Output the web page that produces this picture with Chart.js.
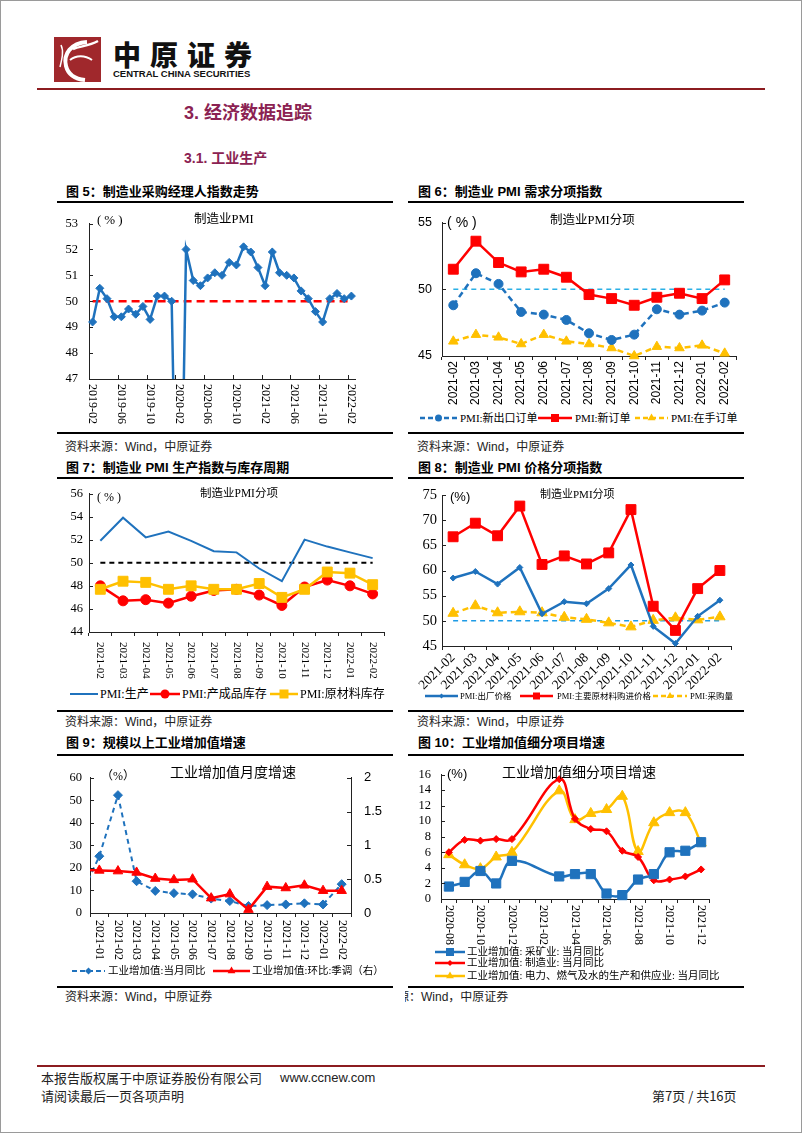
<!DOCTYPE html>
<html><head><meta charset="utf-8">
<script src="https://cdn.jsdelivr.net/npm/chart.js@4.4.1/dist/chart.umd.min.js"></script>
<style>
html,body{margin:0;padding:0;background:#fff;}
#page{position:relative;width:802px;height:1133px;overflow:hidden;background:#fff;font-family:'Noto Sans CJK SC',sans-serif;}
#frame{position:absolute;left:0;top:0;width:802px;height:1133px;box-sizing:border-box;border:1px solid #9a9a9a;}
.t{position:absolute;white-space:nowrap;line-height:1;}
.rule{position:absolute;height:2px;background:#000;}
.ftitle{font-family:'Liberation Sans','Noto Sans CJK SC',sans-serif;font-weight:700;font-size:13px;color:#000;}
.src{font-family:'Liberation Sans','Noto Sans CJK SC',sans-serif;font-size:12px;color:#222;}
.cap{font-family:'Liberation Serif','Noto Sans CJK SC',serif;color:#000;}
.capsans{font-family:'Liberation Sans','Noto Sans CJK SC',sans-serif;color:#000;}
canvas{position:absolute;}
.leg{position:absolute;display:flex;align-items:center;height:14px;white-space:nowrap;font-family:'Liberation Serif','Noto Sans CJK SC',serif;color:#000;line-height:1;}
.head{font-family:'Liberation Sans','Noto Sans CJK SC',sans-serif;font-weight:700;color:#8b2252;}
.foot{font-family:'Noto Sans CJK SC',sans-serif;font-size:13px;color:#222;}
</style>
</head>
<body>
<div id="page">
  <!-- header -->
  <svg style="position:absolute;left:54px;top:37px" width="47" height="45">
    <rect width="47" height="45" fill="#a0282c"/>
    <path d="M33 5 C 17 6, 9 17, 12 29 C 14 37, 21 42, 31 43" fill="none" stroke="#fff" stroke-width="4"/>
    <path d="M19 12 C 27 9, 35 9, 44 4" fill="none" stroke="#fff" stroke-width="2.5"/>
    <path d="M16 23 C 22 18, 31 18, 38 23" fill="none" stroke="#fff" stroke-width="2"/>
    <path d="M7 8 C 10 14, 8 22, 6 30" fill="none" stroke="#fff" stroke-width="1.5"/>
  </svg>
  <div class="t" style="left:113px;top:40px;font-size:28px;font-weight:900;letter-spacing:9px;color:#111;font-family:'Noto Sans CJK SC'">中原证券</div>
  <div class="t" style="left:113px;top:69px;font-size:9.5px;font-weight:700;color:#111;font-family:'Liberation Sans'">CENTRAL CHINA SECURITIES</div>
  <div class="rule" style="left:37px;top:88px;width:728px;background:#8c1c20"></div>
  <div class="t head" style="left:184px;top:104px;font-size:18px">3. 经济数据追踪</div>
  <div class="t head" style="left:184px;top:151px;font-size:14px">3.1. 工业生产</div>

  <!-- panel titles & rules -->
  <div class="t ftitle" style="left:66px;top:185px">图 5：制造业采购经理人指数走势</div>
  <div class="t ftitle" style="left:418px;top:185px">图 6：制造业 PMI 需求分项指数</div>
  <div class="rule" style="left:57px;top:201px;width:336px"></div>
  <div class="rule" style="left:408px;top:201px;width:336px"></div>
  <div class="rule" style="left:57px;top:432px;width:336px"></div>
  <div class="rule" style="left:408px;top:432px;width:336px"></div>
  <div class="t src" style="left:65px;top:441px">资料来源：Wind，中原证券</div>
  <div class="t src" style="left:417px;top:441px">资料来源：Wind，中原证券</div>

  <div class="t ftitle" style="left:66px;top:461px">图 7：制造业 PMI 生产指数与库存周期</div>
  <div class="t ftitle" style="left:418px;top:461px">图 8：制造业 PMI 价格分项指数</div>
  <div class="rule" style="left:57px;top:477px;width:336px"></div>
  <div class="rule" style="left:408px;top:477px;width:336px"></div>
  <div class="rule" style="left:57px;top:710px;width:336px"></div>
  <div class="rule" style="left:408px;top:710px;width:336px"></div>
  <div class="t src" style="left:65px;top:716px">资料来源：Wind，中原证券</div>
  <div class="t src" style="left:417px;top:716px">资料来源：Wind，中原证券</div>

  <div class="t ftitle" style="left:66px;top:736px">图 9：规模以上工业增加值增速</div>
  <div class="t ftitle" style="left:418px;top:736px">图 10：工业增加值细分项目增速</div>
  <div class="rule" style="left:57px;top:754px;width:336px"></div>
  <div class="rule" style="left:408px;top:754px;width:336px"></div>
  <div class="rule" style="left:57px;top:986px;width:336px"></div>
  <div class="rule" style="left:408px;top:986px;width:336px"></div>
  <div class="t src" style="left:65px;top:991px">资料来源：Wind，中原证券</div>
  <div style="position:absolute;left:405px;top:991px;width:340px;height:14px;overflow:hidden">
    <div class="t src" style="left:-44px;top:0">资料来源：Wind，中原证券</div>
  </div>

  <!-- canvases -->
  <canvas id="c5" width="336" height="225" style="left:57px;top:205px"></canvas>
  <canvas id="c6" width="336" height="205" style="left:408px;top:205px"></canvas>
  <canvas id="c7" width="336" height="205" style="left:57px;top:480px"></canvas>
  <canvas id="c8" width="336" height="210" style="left:408px;top:480px"></canvas>
  <canvas id="c9" width="336" height="208" style="left:57px;top:757px"></canvas>
  <canvas id="c10" width="336" height="190" style="left:408px;top:757px"></canvas>

  <!-- in-chart captions -->
  <div class="t cap" style="left:97px;top:213px;font-size:13px;letter-spacing:3px">(%)</div>
  <div class="t cap" style="left:194px;top:213px;font-size:12.5px">制造业PMI</div>
  <div class="t capsans" style="left:447px;top:215px;font-size:14px;letter-spacing:4px">(%)</div>
  <div class="t cap" style="left:550px;top:214px;font-size:12.5px">制造业PMI分项</div>
  <div class="t cap" style="left:97px;top:491px;font-size:12px;letter-spacing:3px">(%)</div>
  <div class="t cap" style="left:200px;top:488px;font-size:11.5px">制造业PMI分项</div>
  <div class="t capsans" style="left:450px;top:490px;font-size:13px">(%)</div>
  <div class="t cap" style="left:540px;top:489px;font-size:11px">制造业PMI分项</div>
  <div class="t cap" style="left:101px;top:770px;font-size:12px">（%）</div>
  <div class="t cap" style="left:170px;top:766px;font-size:14px">工业增加值月度增速</div>
  <div class="t capsans" style="left:447px;top:767px;font-size:13px">(%)</div>
  <div class="t cap" style="left:502px;top:766px;font-size:14px">工业增加值细分项目增速</div>

  <!-- footer -->
  <div class="rule" style="left:37px;top:1065px;width:728px;background:#8c1c20"></div>
  <div class="t foot" style="left:41px;top:1071px">本报告版权属于中原证券股份有限公司</div>
  <div class="t" style="left:280px;top:1071px;font-size:13px;font-family:'Liberation Sans';color:#222">www.ccnew.com</div>
  <div class="t foot" style="left:41px;top:1089px">请阅读最后一页各项声明</div>
  <div class="t foot" style="left:652px;top:1089px">第7页 / 共16页</div>
  <div id="frame"></div>
</div>

<script>
// ---------------- DATA ----------------
// Fig 5: manufacturing PMI
const pmiMonths = ['2019-02','2019-03','2019-04','2019-05','2019-06','2019-07','2019-08','2019-09','2019-10','2019-11','2019-12',
  '2020-01','2020-02','2020-03','2020-04','2020-05','2020-06','2020-07','2020-08','2020-09','2020-10','2020-11','2020-12',
  '2021-01','2021-02','2021-03','2021-04','2021-05','2021-06','2021-07','2021-08','2021-09','2021-10','2021-11','2021-12',
  '2022-01','2022-02'];
const pmiValues = [49.2,50.5,50.1,49.4,49.4,49.7,49.5,49.8,49.3,50.2,50.2,
  50.0,35.7,52.0,50.8,50.6,50.9,51.1,51.0,51.5,51.4,52.1,51.9,
  51.3,50.6,51.9,51.1,51.0,50.9,50.4,50.1,49.6,49.2,50.1,50.3,
  50.1,50.2];
const pmiThreshold = 50;

// Fig 6/7/8: PMI sub-indices
const subMonths = ['2021-02','2021-03','2021-04','2021-05','2021-06','2021-07','2021-08','2021-09','2021-10','2021-11','2021-12','2022-01','2022-02'];
const exportOrders  = [48.8,51.2,50.4,48.3,48.1,47.7,46.7,46.2,46.6,48.5,48.1,48.4,49.0];
const newOrders     = [51.5,53.6,52.0,51.3,51.5,50.9,49.6,49.3,48.8,49.4,49.7,49.3,50.7];
const backlogOrders = [46.1,46.6,46.4,45.9,46.6,46.1,45.9,45.6,45.0,45.7,45.6,45.8,45.2];

const production    = [51.9,53.9,52.2,52.7,51.9,51.0,50.9,49.5,48.4,52.0,51.4,50.9,50.4];
const finishedInv   = [48.0,46.7,46.8,46.5,47.1,47.6,47.7,47.2,46.3,47.9,48.5,48.0,47.3];
const rawInv        = [47.7,48.4,48.3,47.7,48.0,47.7,47.7,48.2,47.0,47.7,49.2,49.1,48.1];

const outputPrice   = [58.5,59.8,57.3,60.6,51.4,53.8,53.4,56.4,61.1,48.9,45.5,50.9,54.1];
const inputPrice    = [66.7,69.4,66.9,72.8,61.2,62.9,61.3,63.5,72.1,52.9,48.1,56.4,60.0];
const purchaseQty   = [51.5,53.0,51.6,51.8,51.6,50.7,50.3,49.6,48.8,50.1,50.6,50.2,50.8];

// Fig 9: industrial value added (first month sits just left of the visible axis)
const iavMonths = ['2020-12','2021-01','2021-02','2021-03','2021-04','2021-05','2021-06','2021-07','2021-08','2021-09','2021-10','2021-11','2021-12','2022-01','2022-02'];
const iavYoY = [7.3,25.2,52.3,14.1,9.8,8.8,8.3,6.4,5.3,3.1,3.5,3.8,4.3,3.8,12.8];
const iavMoM = [0.64,0.63,0.62,0.60,0.51,0.49,0.50,0.22,0.28,0.05,0.39,0.37,0.41,0.33,0.33];

// Fig 10: value added by sector
const secMonths = ['2020-08','2020-09','2020-10','2020-11','2020-12','2021-01','2021-02','2021-03','2021-04','2021-05','2021-06','2021-07','2021-08','2021-09','2021-10','2021-11','2021-12'];
const mining        = [1.6,2.2,3.6,2.0,4.9,null,null,2.9,3.2,3.2,0.7,0.5,2.5,3.2,6.0,6.2,7.3];
const manufacturing = [6.0,7.6,7.5,7.7,7.7,null,null,15.4,10.3,9.0,8.7,6.2,5.4,2.4,2.5,2.9,3.8];
const utilities     = [5.7,4.4,3.9,5.4,6.0,null,null,13.9,10.2,11.0,11.5,13.2,6.1,9.8,11.1,11.1,7.2];

// ---------------- STYLE ----------------
const serif = "'Liberation Serif','Times New Roman',serif";
const sans = "'Liberation Sans',Arial,sans-serif";
const BLUE = '#1f72bd', RED = '#ff0000', YEL = '#ffc000', AX = '#222';
Chart.defaults.font.family = serif;
Chart.defaults.color = '#000';

const deco = {
  id: 'deco',
  afterDraw(chart, args, o) {
    const ctx = chart.ctx;
    ctx.save();
    ctx.strokeStyle = AX; ctx.lineWidth = 1;
    (o.inY || []).forEach(id => {
      const s = chart.scales[id];
      const isLeft = s.position === 'left';
      const edge = isLeft ? s.right : s.left;
      s.ticks.forEach((t, i) => {
        const py = Math.round(s.getPixelForTick(i)) + 0.5;
        ctx.beginPath(); ctx.moveTo(edge, py); ctx.lineTo(edge + (isLeft ? 4 : -4), py); ctx.stroke();
      });
    });
    const v = o.vlabels;
    if (v) {
      const x = chart.scales.x;
      const labels = chart.data.labels;
      const step = x.getPixelForValue(1) - x.getPixelForValue(0);
      ctx.font = v.font; ctx.fillStyle = '#000';
      ctx.textAlign = 'left'; ctx.textBaseline = 'middle';
      for (let i = v.start || 0; i < labels.length; i += v.every) {
        const px = x.getPixelForValue(i);
        ctx.save(); ctx.translate(px, x.top + v.pad); ctx.rotate(Math.PI / 2); ctx.fillText(labels[i], 0, 0); ctx.restore();
        if (v.inTicks) {
          const bx = Math.round(px - step / 2) + 0.5;
          ctx.beginPath(); ctx.moveTo(bx, x.top); ctx.lineTo(bx, x.top - 4); ctx.stroke();
        }
      }
    }
    ctx.restore();
  }
};

function yAxis(c) {
  return {
    type: 'linear', position: c.position || 'left', min: c.min, max: c.max,
    ticks: { stepSize: c.step, autoSkip: false, padding: c.pad, font: c.font, color: '#000', callback: v => String(+Number(v).toFixed(2)) },
    grid: { display: false, drawTicks: false },
    border: { display: true, color: AX, width: 1 },
    afterFit: s => { s.width = c.w; }
  };
}
function xAxis(c) {
  return Object.assign({
    type: 'category', offset: true,
    ticks: c.ticks || { display: false },
    grid: c.noGrid ? { display: false } :
      { display: true, drawOnChartArea: false, drawTicks: true, tickLength: 4, offset: true, color: AX, tickColor: AX },
    border: { display: true, color: AX, width: 1 },
    afterFit: s => { s.height = c.h; }
  }, c.extra || {});
}
function opts(padding, scales, decoOpts) {
  return {
    responsive: false, animation: false, events: [],
    layout: { padding },
    plugins: { legend: { display: false }, tooltip: { enabled: false }, deco: decoOpts },
    scales
  };
}
function series(data, color, o = {}) {
  return Object.assign({
    data, borderColor: color, backgroundColor: color,
    pointBackgroundColor: color, pointBorderColor: color, pointBorderWidth: 1,
    borderWidth: 2.5, tension: 0, fill: false
  }, o);
}
function refLine(labels, value, color, dash, width) {
  return { data: labels.map(() => value), borderColor: color, borderDash: dash, borderWidth: width, pointRadius: 0, fill: false };
}

// ---------------- FIG 5 ----------------
new Chart(document.getElementById('c5'), {
  type: 'line', plugins: [deco],
  data: { labels: pmiMonths, datasets: [
    series(pmiValues, BLUE, { pointStyle: 'rectRot', pointRadius: 4 }),
    refLine(pmiMonths, pmiThreshold, RED, [8, 5], 2.5)
  ]},
  options: opts({ left: 0, top: 10, right: 38, bottom: 0 }, {
    x: xAxis({ h: 51, noGrid: true }),
    y: yAxis({ min: 47, max: 53, step: 1, w: 32, pad: 11, font: { family: serif, size: 12.5 } })
  }, { inY: ['y'], vlabels: { every: 4, pad: 5, font: '12px ' + serif, inTicks: true } })
});

// ---------------- FIG 6 ----------------
new Chart(document.getElementById('c6'), {
  type: 'line', plugins: [deco],
  data: { labels: subMonths, datasets: [
    series(newOrders, RED, { pointStyle: 'rect', pointRadius: 7, clip: false }),
    series(exportOrders, BLUE, { borderDash: [6, 4], pointStyle: 'circle', pointRadius: 4.5, clip: false }),
    series(backlogOrders, YEL, { borderDash: [6, 4], pointStyle: 'triangle', pointRadius: 5.5, clip: false }),
    refLine(subMonths, pmiThreshold, '#2ab0e6', [5, 4], 1.5)
  ]},
  options: opts({ left: 0, top: 12, right: 6, bottom: 0 }, {
    x: xAxis({ h: 54, ticks: { display: true, autoSkip: false, minRotation: 90, maxRotation: 90, padding: 1, font: { family: sans, size: 12 }, color: '#000' } }),
    y: yAxis({ min: 45, max: 55, step: 5, w: 34, pad: 10, font: { family: sans, size: 12.5 } })
  }, { inY: ['y'] })
});

// ---------------- FIG 7 ----------------
new Chart(document.getElementById('c7'), {
  type: 'line', plugins: [deco],
  data: { labels: subMonths, datasets: [
    series(rawInv, YEL, { pointStyle: 'rect', pointRadius: 7, clip: false }),
    series(finishedInv, RED, { pointStyle: 'circle', pointRadius: 5, clip: false }),
    series(production, BLUE, { pointRadius: 0, borderWidth: 2, clip: false }),
    refLine(subMonths, pmiThreshold, '#000', [5, 4], 2)
  ]},
  options: opts({ left: 0, top: 13, right: 9, bottom: 0 }, {
    x: xAxis({ h: 53 }),
    y: yAxis({ min: 44, max: 56, step: 2, w: 32, pad: 6, font: { family: serif, size: 12.5 } })
  }, { inY: ['y'], vlabels: { every: 1, pad: 10, font: '11px ' + serif } })
});

// ---------------- FIG 8 ----------------
new Chart(document.getElementById('c8'), {
  type: 'line', plugins: [deco],
  data: { labels: subMonths, datasets: [
    series(inputPrice, RED, { pointStyle: 'rect', pointRadius: 7, clip: false }),
    series(outputPrice, BLUE, { pointStyle: 'rectRot', pointRadius: 3, clip: false }),
    series(purchaseQty, YEL, { borderDash: [6, 4], pointStyle: 'triangle', pointRadius: 6, clip: false }),
    refLine(subMonths, pmiThreshold, '#1e9be6', [5, 4], 1.5)
  ]},
  options: opts({ left: 0, top: 15, right: 13, bottom: 0 }, {
    x: xAxis({ h: 44, ticks: { display: true, autoSkip: false, minRotation: 45, maxRotation: 45, padding: 0, font: { family: serif, size: 13.5 }, color: '#000' } }),
    y: yAxis({ min: 45, max: 75, step: 5, w: 34, pad: 5, font: { family: serif, size: 14.5 } })
  }, { inY: ['y'] })
});

// ---------------- FIG 9 ----------------
const clip9 = { left: 0, top: 20, right: 20, bottom: 20 };
new Chart(document.getElementById('c9'), {
  type: 'line', plugins: [deco],
  data: { labels: iavMonths, datasets: [
    series(iavMoM, RED, { yAxisID: 'y1', pointStyle: 'triangle', pointRadius: 5.5, clip: clip9 }),
    series(iavYoY, BLUE, { yAxisID: 'y', borderDash: [5, 4], borderWidth: 2, pointStyle: 'rectRot', pointRadius: 4.5, clip: clip9 })
  ]},
  options: opts({ left: 0, top: 12, right: 0, bottom: 0 }, {
    x: xAxis({ h: 52, extra: { min: '2021-01' } }),
    y: yAxis({ min: 0, max: 60, step: 10, w: 33, pad: 8, font: { family: serif, size: 12.5 } }),
    y1: yAxis({ position: 'right', min: 0, max: 2, step: 0.5, w: 42, pad: 13, font: { family: sans, size: 13 } })
  }, { inY: ['y', 'y1'], vlabels: { start: 1, every: 1, pad: 7, font: '12px ' + serif } })
});

// ---------------- FIG 10 ----------------
new Chart(document.getElementById('c10'), {
  type: 'line', plugins: [deco],
  data: { labels: secMonths, datasets: [
    series(mining, BLUE, { pointStyle: 'rect', pointRadius: 6.5, tension: 0.4, spanGaps: true, clip: false }),
    series(manufacturing, RED, { pointStyle: 'rectRot', pointRadius: 3.5, tension: 0.4, spanGaps: true, clip: false }),
    series(utilities, YEL, { pointStyle: 'triangle', pointRadius: 6, tension: 0.4, spanGaps: true, clip: false })
  ]},
  options: opts({ left: 0, top: 11, right: 35, bottom: 0 }, {
    x: xAxis({ h: 48 }),
    y: yAxis({ min: 0, max: 16, step: 2, w: 33, pad: 10, font: { family: serif, size: 12.5 } })
  }, { inY: ['y'], vlabels: { every: 2, pad: 6, font: '12px ' + serif } })
});

// ---------------- LEGENDS ----------------
const page = document.getElementById('page');
function icon(c) {
  const len = c.len, h = 14, cy = 7, cx = len / 2, r = c.r || 0;
  let m = '';
  if (c.marker === 'circle') m = `<circle cx="${cx}" cy="${cy}" r="${r}" fill="${c.color}"/>`;
  else if (c.marker === 'rect') m = `<rect x="${cx - r}" y="${cy - r}" width="${2 * r}" height="${2 * r}" fill="${c.color}"/>`;
  else if (c.marker === 'tri') m = `<polygon points="${cx},${cy - r} ${cx + r * 0.87},${cy + r * 0.5} ${cx - r * 0.87},${cy + r * 0.5}" fill="${c.color}"/>`;
  else if (c.marker === 'diamond') m = `<polygon points="${cx},${cy - r} ${cx + r},${cy} ${cx},${cy + r} ${cx - r},${cy}" fill="${c.color}"/>`;
  const dash = c.dash ? `stroke-dasharray="${c.dash}"` : '';
  return `<svg width="${len}" height="${h}" style="display:block;flex:none"><line x1="0" y1="${cy}" x2="${len}" y2="${cy}" stroke="${c.color}" stroke-width="${c.lw || 2.5}" ${dash}/>${m}</svg>`;
}
function legendItem(left, cy, c, text, size, gap) {
  const d = document.createElement('div');
  d.className = 'leg';
  d.style.left = left + 'px'; d.style.top = (cy - 7) + 'px'; d.style.fontSize = size + 'px';
  d.innerHTML = icon(c) + `<span style="margin-left:${gap}px">${text}</span>`;
  page.insertBefore(d, document.getElementById('frame'));
}
// Fig 6
legendItem(420, 418, { color: BLUE, len: 37, dash: '5 3', marker: 'circle', r: 3.5 }, 'PMI:新出口订单', 11, 3);
legendItem(538, 418, { color: RED, len: 34, marker: 'rect', r: 4 }, 'PMI:新订单', 11, 3);
legendItem(635, 418, { color: YEL, len: 33, dash: '5 3', marker: 'tri', r: 4.5 }, 'PMI:在手订单', 11, 3);
// Fig 7
legendItem(70, 694, { color: BLUE, len: 28, lw: 2 }, 'PMI:生产', 12, 2);
legendItem(150, 694, { color: RED, len: 30, marker: 'circle', r: 4.5 }, 'PMI:产成品库存', 12, 2);
legendItem(270, 694, { color: YEL, len: 28, marker: 'rect', r: 4.5 }, 'PMI:原材料库存', 12, 2);
// Fig 8
legendItem(425, 696, { color: BLUE, len: 33, marker: 'diamond', r: 2.5 }, 'PMI:出厂价格', 8.5, 2);
legendItem(520, 696, { color: RED, len: 33, marker: 'rect', r: 3.5 }, 'PMI:主要原材料购进价格', 8.5, 4);
legendItem(653, 696, { color: YEL, len: 34, dash: '5 3', marker: 'tri', r: 4 }, 'PMI:采购量', 8.5, 3);
// Fig 9
legendItem(72, 971, { color: BLUE, len: 33, dash: '5 3', marker: 'diamond', r: 3.5, lw: 2 }, '工业增加值:当月同比', 10.5, 3);
legendItem(213, 971, { color: RED, len: 37, marker: 'tri', r: 4.5 }, '工业增加值:环比:季调（右）', 10.5, 2);
// Fig 10
legendItem(435, 952, { color: BLUE, len: 30, marker: 'rect', r: 4 }, '工业增加值: 采矿业: 当月同比', 10.5, 2);
legendItem(435, 963, { color: RED, len: 30, marker: 'diamond', r: 3 }, '工业增加值: 制造业: 当月同比', 10.5, 2);
legendItem(435, 976, { color: YEL, len: 30, marker: 'tri', r: 4.5 }, '工业增加值: 电力、燃气及水的生产和供应业: 当月同比', 10.5, 2);
</script>
</body></html>
